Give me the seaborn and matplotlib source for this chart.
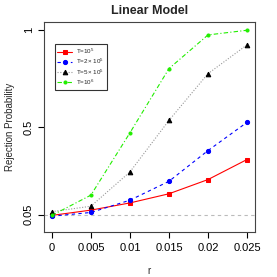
import numpy as np
import pandas as pd
import seaborn as sns
import matplotlib
matplotlib.use("Agg")
import matplotlib.pyplot as plt

r_values = [0, 0.005, 0.01, 0.015, 0.02, 0.025]
rej_1e5 = [0.046, 0.073, 0.110, 0.157, 0.230, 0.333]
rej_2e5 = [0.042, 0.061, 0.124, 0.221, 0.379, 0.524]
rej_5e5 = [0.065, 0.093, 0.269, 0.534, 0.774, 0.922]
rej_1e6 = [0.046, 0.150, 0.470, 0.800, 0.973, 0.997]
series_labels = [r"T=$10^5$", r"T=$2\times10^5$", r"T=$5\times10^5$", r"T=$10^6$"]

sns.set_style("ticks")
plt.rcParams["font.family"] = ["Liberation Sans", "DejaVu Sans"]
plt.rcParams["mathtext.fontset"] = "custom"
plt.rcParams["mathtext.rm"] = "Liberation Sans"
plt.rcParams["mathtext.it"] = "Liberation Sans"

df = pd.DataFrame({
    "r": r_values * 4,
    "p": rej_1e5 + rej_2e5 + rej_5e5 + rej_1e6,
    "T": sum([[lab] * len(r_values) for lab in series_labels], []),
})

fig = plt.figure(figsize=(2.77, 2.77), dpi=100)
ax = fig.add_axes([0.159, 0.162, 0.761, 0.759])

ax.axhline(0.05, color="#bbbbbb", lw=0.8, ls=(0, (3, 3)), zorder=1)

styles = [
    dict(color="red", ls="-", marker="s", ms=3, mfc="red", mec="red", lw=0.8),
    dict(color="blue", ls=(0, (3, 3)), marker="o", ms=3, mfc="blue", mec="blue", lw=0.8),
    dict(color="#999999", ls=(0, (1, 1.5)), marker="^", ms=3.3, mfc="black", mec="black", lw=0.8),
    dict(color="#22ee00", ls=(0, (4, 2, 1, 2)), marker="o", ms=2.2, mfc="#22ee00", mec="#22ee00", lw=0.8),
]

for lab, st in zip(series_labels, styles):
    sub = df[df["T"] == lab]
    sns.lineplot(data=sub, x="r", y="p", ax=ax, label=lab, **st)

ax.set_xlim(-0.001, 0.026)
ax.set_ylim(-0.04, 1.04)
ax.set_xticks(r_values)
ax.set_xticklabels(["0", "0.005", "0.01", "0.015", "0.02", "0.025"], fontsize=8)
ax.set_yticks([0.05, 0.5, 1])
ax.set_yticklabels(["0.05", "0.5", "1"], fontsize=8, rotation=90, va="center")
ax.tick_params(length=4, width=0.8, colors="black")
for s in ax.spines.values():
    s.set_linewidth(0.8)
    s.set_color("#444444")

ax.set_xlabel("r", fontsize=7, labelpad=10)
ax.set_ylabel("Rejection Probability", fontsize=7, labelpad=6)
ax.set_title("Linear Model", fontsize=9, fontweight="bold", pad=6)

leg = ax.legend(loc="upper left", bbox_to_anchor=(0.035, 0.91), fontsize=4.5,
                frameon=True, fancybox=False, edgecolor="black",
                handlelength=2.4, handletextpad=0.6, borderpad=0.45, labelspacing=0.15)
leg.get_frame().set_linewidth(0.8)

fig.savefig("out.png", dpi=100)
